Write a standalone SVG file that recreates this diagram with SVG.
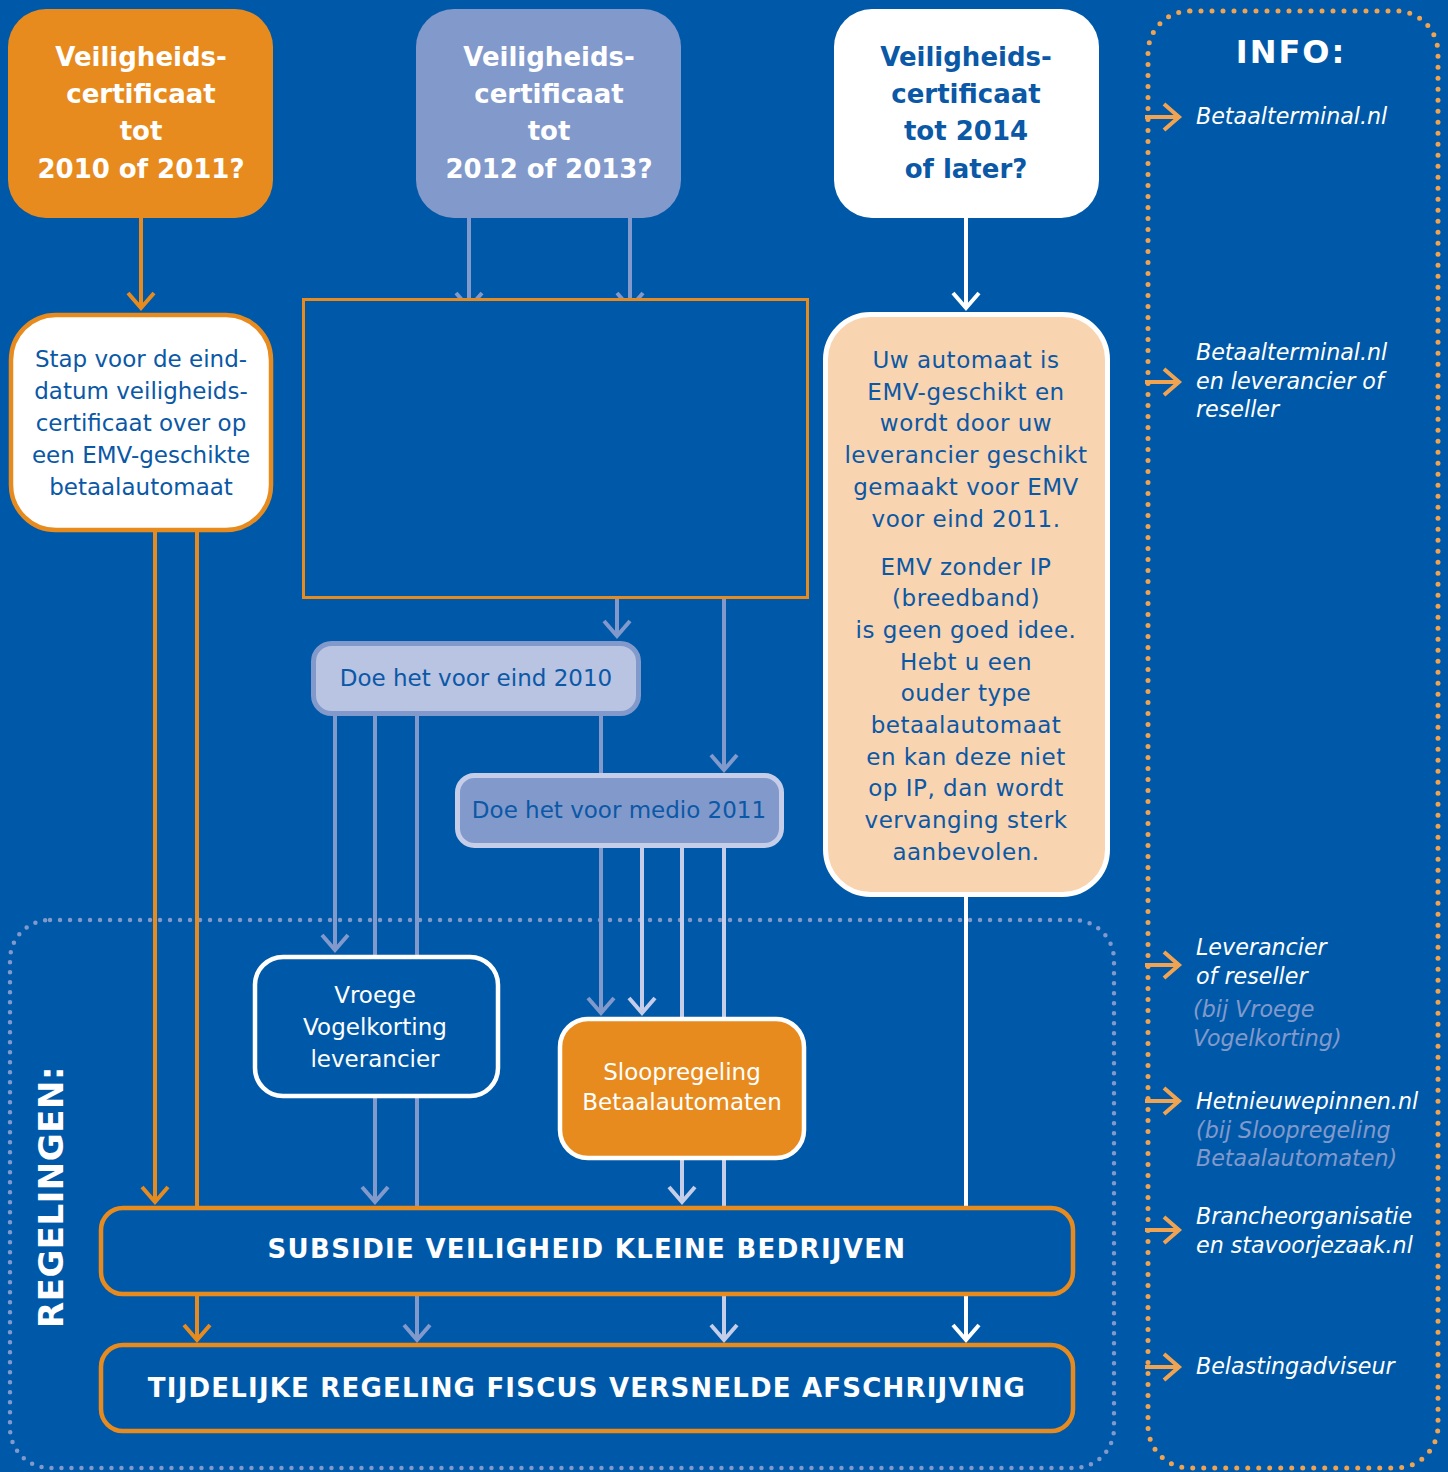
<svg xmlns="http://www.w3.org/2000/svg" width="1448" height="1472" viewBox="0 0 1448 1472">
<defs>
<style>
.t{font-family:"DejaVu Sans",Verdana,sans-serif;text-anchor:middle}
.b{font-weight:bold}
.w{fill:#ffffff}
.dk{fill:#0a58a6}
.it{font-family:"DejaVu Sans",Verdana,sans-serif;font-style:italic;font-size:22.2px;fill:#ffffff}
.itl{fill:#8299cc}
.c{fill:none;stroke-width:4}
.or{stroke:#e88b1e}
.lv{stroke:#8299cc}
.lt{stroke:#c5cde8}
.wh{stroke:#ffffff}
.io{stroke:#f0a452}
</style>
<marker id="mo" viewBox="-20 -20 40 40" markerWidth="40" markerHeight="40" refX="0" refY="0" orient="auto" markerUnits="userSpaceOnUse"><path d="M-15,-13 L0,0 L-15,13" fill="none" stroke="#e88b1e" stroke-width="4"/></marker>
<marker id="ml" viewBox="-20 -20 40 40" markerWidth="40" markerHeight="40" refX="0" refY="0" orient="auto" markerUnits="userSpaceOnUse"><path d="M-15,-13 L0,0 L-15,13" fill="none" stroke="#8299cc" stroke-width="4"/></marker>
<marker id="mt" viewBox="-20 -20 40 40" markerWidth="40" markerHeight="40" refX="0" refY="0" orient="auto" markerUnits="userSpaceOnUse"><path d="M-15,-13 L0,0 L-15,13" fill="none" stroke="#c5cde8" stroke-width="4"/></marker>
<marker id="mw" viewBox="-20 -20 40 40" markerWidth="40" markerHeight="40" refX="0" refY="0" orient="auto" markerUnits="userSpaceOnUse"><path d="M-15,-13 L0,0 L-15,13" fill="none" stroke="#ffffff" stroke-width="4"/></marker>
<marker id="mi" viewBox="-20 -20 40 40" markerWidth="40" markerHeight="40" refX="0" refY="0" orient="auto" markerUnits="userSpaceOnUse"><path d="M-15,-13 L0,0 L-15,13" fill="none" stroke="#f0a452" stroke-width="4"/></marker>
</defs>
<rect x="0" y="0" width="1448" height="1472" fill="#0059a8"/>

<g id="containers">
<rect x="10" y="920" width="1104" height="548" rx="40" fill="none" stroke="#8299cc" stroke-width="4.5" stroke-linecap="round" stroke-dasharray="0 10"/>
<rect x="1148" y="11" width="290" height="1457" rx="42" fill="none" stroke="#f0a452" stroke-width="5" stroke-linecap="round" stroke-dasharray="0 11"/>
<text class="t b w" font-size="34" letter-spacing="0.5" transform="translate(63,1197) rotate(-90)">REGELINGEN:</text>
<text class="t b w" x="1291" y="63" font-size="32" letter-spacing="2">INFO:</text>
</g>

<g id="connectors">
<path class="c or" d="M141 218 V308" marker-end="url(#mo)"/>
<path class="c or" d="M155 531 V1202" marker-end="url(#mo)"/>
<path class="c or" d="M197 531 V1207"/>
<path class="c or" d="M197 1295 V1340" marker-end="url(#mo)"/>
<path class="c lv" d="M469 218 V308" marker-end="url(#ml)"/>
<path class="c lv" d="M630 218 V308" marker-end="url(#ml)"/>
<path class="c lv" d="M617 598 V636" marker-end="url(#ml)"/>
<path class="c lv" d="M724 598 V770" marker-end="url(#ml)"/>
<path class="c lv" d="M335 716 V950" marker-end="url(#ml)"/>
<path class="c lv" d="M375 716 V956"/>
<path class="c lv" d="M417 716 V956"/>
<path class="c lv" d="M601 716 V774"/>
<path class="c lv" d="M601 848 V1013" marker-end="url(#ml)"/>
<path class="c lv" d="M375 1098 V1202" marker-end="url(#ml)"/>
<path class="c lv" d="M417 1098 V1207"/>
<path class="c lv" d="M417 1295 V1340" marker-end="url(#ml)"/>
<path class="c lt" d="M642 848 V1013" marker-end="url(#mt)"/>
<path class="c lt" d="M682 848 V1018"/>
<path class="c lt" d="M724 848 V1018"/>
<path class="c lt" d="M682 1160 V1202" marker-end="url(#mt)"/>
<path class="c lt" d="M724 1160 V1207"/>
<path class="c lt" d="M724 1295 V1340" marker-end="url(#mt)"/>
<path class="c wh" d="M966 218 V308" marker-end="url(#mw)"/>
<path class="c wh" d="M966 897 V1207"/>
<path class="c wh" d="M966 1295 V1340" marker-end="url(#mw)"/>
<path class="c io" d="M1145 117 H1179" marker-end="url(#mi)"/>
<path class="c io" d="M1145 382 H1179" marker-end="url(#mi)"/>
<path class="c io" d="M1145 965 H1179" marker-end="url(#mi)"/>
<path class="c io" d="M1145 1101 H1179" marker-end="url(#mi)"/>
<path class="c io" d="M1145 1230 H1179" marker-end="url(#mi)"/>
<path class="c io" d="M1145 1367 H1179" marker-end="url(#mi)"/>
</g>

<g id="cert2010">
<rect x="8" y="9" width="265" height="209" rx="38" fill="#e88b1e"/>
<text class="t b w" font-size="26"><tspan x="141" y="66">Veiligheids-</tspan><tspan x="141" y="103">certificaat</tspan><tspan x="141" y="140">tot</tspan><tspan x="141" y="178">2010 of 2011?</tspan></text>
</g>

<g id="cert2012">
<rect x="416" y="9" width="265" height="209" rx="38" fill="#8299cc"/>
<text class="t b w" font-size="26"><tspan x="549" y="66">Veiligheids-</tspan><tspan x="549" y="103">certificaat</tspan><tspan x="549" y="140">tot</tspan><tspan x="549" y="178">2012 of 2013?</tspan></text>
</g>

<g id="cert2014">
<rect x="834" y="9" width="265" height="209" rx="38" fill="#ffffff"/>
<text class="t b dk" font-size="26"><tspan x="966" y="66">Veiligheids-</tspan><tspan x="966" y="103">certificaat</tspan><tspan x="966" y="140">tot 2014</tspan><tspan x="966" y="178">of later?</tspan></text>
</g>

<g id="stap">
<rect x="11" y="315" width="260" height="215" rx="45" fill="#ffffff" stroke="#e88b1e" stroke-width="4.5"/>
<text class="t dk" font-size="23"><tspan x="141" y="367">Stap voor de eind-</tspan><tspan x="141" y="399">datum veiligheids-</tspan><tspan x="141" y="431">certificaat over op</tspan><tspan x="141" y="463">een EMV-geschikte</tspan><tspan x="141" y="495">betaalautomaat</tspan></text>
</g>

<g id="placeholder">
<rect x="303.5" y="299.5" width="504" height="298" fill="#0059a8" stroke="#e88b1e" stroke-width="3"/>
</g>

<g id="emv">
<rect x="825.5" y="314.5" width="282" height="580" rx="45" fill="#f8d4b0" stroke="#ffffff" stroke-width="5"/>
<text class="t dk" font-size="23" letter-spacing="0.5"><tspan x="966" y="368">Uw automaat is</tspan><tspan x="966" y="400">EMV-geschikt en</tspan><tspan x="966" y="431">wordt door uw</tspan><tspan x="966" y="463">leverancier geschikt</tspan><tspan x="966" y="495">gemaakt voor EMV</tspan><tspan x="966" y="527">voor eind 2011.</tspan><tspan x="966" y="575">EMV zonder IP</tspan><tspan x="966" y="606">(breedband)</tspan><tspan x="966" y="638">is geen goed idee.</tspan><tspan x="966" y="670">Hebt u een</tspan><tspan x="966" y="701">ouder type</tspan><tspan x="966" y="733">betaalautomaat</tspan><tspan x="966" y="765">en kan deze niet</tspan><tspan x="966" y="796">op IP, dan wordt</tspan><tspan x="966" y="828">vervanging sterk</tspan><tspan x="966" y="860">aanbevolen.</tspan></text>
</g>

<g id="eind2010">
<rect x="313.5" y="643.5" width="325" height="70" rx="18" fill="#b9c3e2" stroke="#8299cc" stroke-width="5"/>
<text class="t dk" x="476" y="686" font-size="23">Doe het voor eind 2010</text>
</g>

<g id="medio2011">
<rect x="457.5" y="775.5" width="324" height="70" rx="17" fill="#8299cc" stroke="#c5cde8" stroke-width="5"/>
<text class="t dk" x="619" y="818" font-size="23">Doe het voor medio 2011</text>
</g>

<g id="vroege">
<rect x="255" y="957" width="243" height="139" rx="28" fill="#0059a8" stroke="#ffffff" stroke-width="4.5"/>
<text class="t w" font-size="23"><tspan x="375" y="1003">Vroege</tspan><tspan x="375" y="1035">Vogelkorting</tspan><tspan x="375" y="1067">leverancier</tspan></text>
</g>

<g id="sloop">
<rect x="560" y="1019" width="244" height="139" rx="28" fill="#e88b1e" stroke="#ffffff" stroke-width="4.5"/>
<text class="t w" font-size="23"><tspan x="682" y="1080">Sloopregeling</tspan><tspan x="682" y="1110">Betaalautomaten</tspan></text>
</g>

<g id="subsidie">
<rect x="101" y="1208" width="972" height="86" rx="22" fill="none" stroke="#e88b1e" stroke-width="4.5"/>
<text class="t b w" x="587" y="1258" font-size="26" letter-spacing="1.3">SUBSIDIE VEILIGHEID KLEINE BEDRIJVEN</text>
</g>

<g id="tijdelijke">
<rect x="101" y="1345" width="972" height="86" rx="22" fill="none" stroke="#e88b1e" stroke-width="4.5"/>
<text class="t b w" x="587" y="1397" font-size="26" letter-spacing="1.2">TIJDELIJKE REGELING FISCUS VERSNELDE AFSCHRIJVING</text>
</g>

<g id="info">
<text class="it" x="1196" y="124">Betaalterminal.nl</text>
<text class="it"><tspan x="1196" y="360">Betaalterminal.nl</tspan><tspan x="1196" y="389">en leverancier of</tspan><tspan x="1196" y="417">reseller</tspan></text>
<text class="it"><tspan x="1196" y="955">Leverancier</tspan><tspan x="1196" y="984">of reseller</tspan><tspan class="itl" x="1193" y="1017">(bij Vroege</tspan><tspan class="itl" x="1193" y="1046">Vogelkorting)</tspan></text>
<text class="it"><tspan x="1196" y="1109">Hetnieuwepinnen.nl</tspan><tspan class="itl" x="1196" y="1138">(bij Sloopregeling</tspan><tspan class="itl" x="1196" y="1166">Betaalautomaten)</tspan></text>
<text class="it"><tspan x="1196" y="1224">Brancheorganisatie</tspan><tspan x="1196" y="1253">en stavoorjezaak.nl</tspan></text>
<text class="it" x="1196" y="1374">Belastingadviseur</text>
</g>
</svg>
